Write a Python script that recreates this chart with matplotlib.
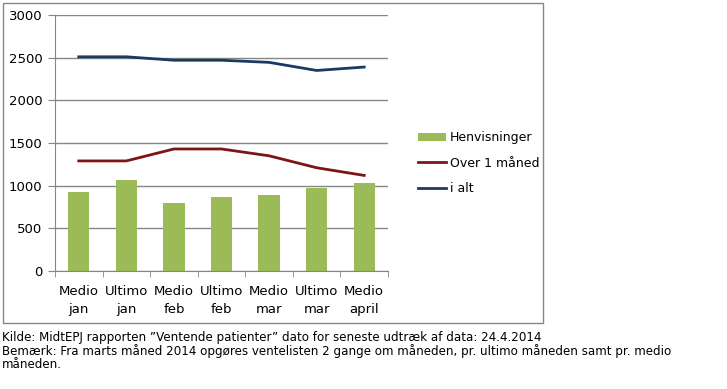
import numpy as np
import matplotlib
matplotlib.use("Agg")
import matplotlib.pyplot as plt
from matplotlib.patches import Rectangle

# Data
kategorier = ["Medio\njan", "Ultimo\njan", "Medio\nfeb", "Ultimo\nfeb",
              "Medio\nmar", "Ultimo\nmar", "Medio\napril"]
henvisninger = [930, 1070, 800, 870, 895, 975, 1035]
over_1_maaned = [1290, 1290, 1430, 1430, 1350, 1210, 1120]
i_alt = [2510, 2510, 2470, 2470, 2445, 2350, 2390]

plt.rcParams['font.family'] = ['DejaVu Sans']
grey = '#868686'

fig = plt.figure(figsize=(7.27, 3.89), dpi=100)

# Chart frame
fig.patches.append(Rectangle((3/727, 66/389), 540/727, 320/389,
                             transform=fig.transFigure, fill=False,
                             edgecolor=grey, linewidth=1))

ax = fig.add_axes([55/727, 118/389, 333/727, 256/389])
x = np.arange(len(kategorier))
b = ax.bar(x, henvisninger, width=0.45, color='#9BBB59', label='Henvisninger', zorder=2)
l1, = ax.plot(x, over_1_maaned, color='#7F1416', linewidth=2, label='Over 1 måned', zorder=3)
l2, = ax.plot(x, i_alt, color='#1B3A63', linewidth=2, label='i alt', zorder=3)

ax.set_xlim(-0.5, len(kategorier) - 0.5)
ax.set_ylim(0, 3000)
ax.set_yticks(np.arange(0, 3001, 500))
ax.yaxis.grid(True, color=grey, linewidth=1)
ax.set_axisbelow(True)

ax.set_xticks(x)
ax.set_xticklabels(kategorier, fontsize=9.5, linespacing=1.5)
ax.set_xticks(np.arange(-0.5, len(kategorier), 1), minor=True)
ax.tick_params(axis='x', which='major', length=0, pad=10)
ax.tick_params(axis='x', which='minor', length=4, color=grey, direction='out')
ax.tick_params(axis='y', length=5, color=grey, labelsize=9.5, pad=4)

for s in ['top', 'right']:
    ax.spines[s].set_visible(False)
ax.spines['left'].set_color(grey)
ax.spines['bottom'].set_color(grey)

fig.legend([b, l1, l2], ['Henvisninger', 'Over 1 måned', 'i alt'],
           loc='upper left', bbox_to_anchor=(407/727, 1 - 120/389),
           frameon=False, fontsize=9, handlelength=2.2, handleheight=0.7,
           handletextpad=0.3, labelspacing=1.0)

fig.text(2/727, 1 - 337/389,
         'Kilde: MidtEPJ rapporten \u201dVentende patienter\u201d dato for seneste udtræk af data: 24.4.2014',
         fontsize=8.6, va='center')
fig.text(2/727, 1 - 351/389,
         'Bemærk: Fra marts måned 2014 opgøres ventelisten 2 gange om måneden, pr. ultimo måneden samt pr. medio',
         fontsize=8.6, va='center')
fig.text(2/727, 1 - 365/389, 'måneden.', fontsize=8.6, va='center')

fig.savefig('out.png', dpi=100)
